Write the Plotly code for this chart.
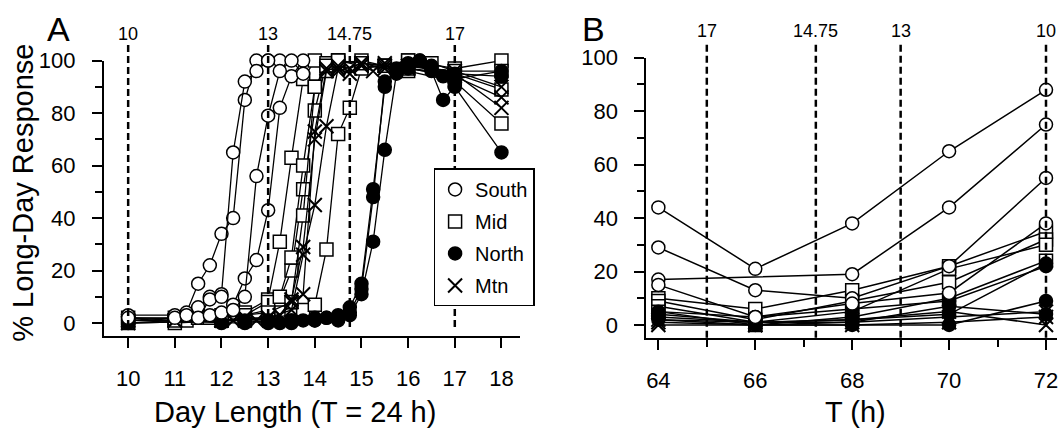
import plotly.graph_objects as go

# ---------------- Panel A: day length (T = 24 h) ----------------
south_a = [
    ([10, 11, 11.25, 11.5, 11.75, 12, 12.25, 12.5, 12.75, 13, 13.25],
     [3, 3, 4, 15, 22, 34, 40, 85, 100, 100, 100]),
    ([10, 11, 11.25, 11.5, 11.75, 12, 12.25, 12.5, 12.75, 13],
     [2, 2, 3, 6, 10, 11, 65, 92, 96, 100]),
    ([11.5, 11.75, 12, 12.25, 12.5, 12.75, 13, 13.25, 13.5, 13.75],
     [2, 9, 10, 7, 17, 24, 43, 82, 94, 100]),
    ([11.75, 12, 12.25, 12.5, 12.75, 13, 13.25, 13.5, 13.75],
     [3, 4, 5, 10, 56, 79, 96, 100, 95]),
]
mid_a = [
    ([10, 11, 11.25, 11.5, 12, 12.5, 13, 13.25, 13.5, 13.75, 14, 14.5, 15, 15.5, 16, 17, 18],
     [1, 2, 1, 2, 3, 4, 9, 31, 63, 93, 100, 100, 99, 98, 100, 97, 100]),
    ([10, 11, 11.5, 12, 12.5, 13, 13.25, 13.5, 13.75, 14, 14.25, 14.5, 15, 16, 17, 18],
     [0, 1, 2, 2, 3, 5, 9, 20, 51, 81, 99, 100, 98, 97, 95, 89]),
    ([11, 11.75, 12.5, 13, 13.25, 13.5, 13.75, 14, 14.25, 14.5, 15, 15.5, 16, 17, 18],
     [1, 2, 3, 8, 10, 25, 60, 90, 96, 99, 100, 98, 96, 92, 76]),
    ([11, 12, 13, 13.5, 13.75, 14, 14.25, 14.5, 14.75, 15, 15.5, 16, 16.5, 17, 18],
     [0, 1, 2, 3, 5, 7, 28, 72, 82, 97, 98, 100, 99, 96, 96]),
    ([10, 11, 12, 12.5, 13, 13.5, 13.75, 14, 14.25, 14.5, 15, 16, 17],
     [2, 1, 2, 3, 4, 8, 41, 90, 98, 100, 99, 97, 94]),
]
north_a = [
    ([10, 12, 12.5, 13, 13.25, 13.5, 13.75, 14, 14.25, 14.5, 14.75, 15, 15.25, 15.5, 15.75, 16, 16.25, 16.5, 16.75, 17, 18],
     [1, 0, 0, 1, 0, 1, 1, 1, 2, 2, 6, 15, 51, 90, 97, 98, 100, 98, 94, 93, 96]),
    ([10, 12.5, 13, 13.5, 14, 14.25, 14.5, 14.75, 15, 15.25, 15.5, 15.75, 16, 16.25, 16.5, 16.75, 17, 18],
     [0, 1, 0, 0, 1, 2, 1, 3, 11, 31, 66, 95, 97, 100, 96, 85, 90, 65]),
    ([10, 13, 13.5, 14, 14.5, 14.75, 15, 15.25, 15.5, 15.75, 16, 16.5, 17, 18],
     [2, 1, 1, 2, 3, 4, 13, 48, 92, 96, 99, 97, 95, 94]),
]
mtn_a = [
    ([10, 11, 12, 12.25, 12.5, 12.75, 13, 13.25, 13.5, 13.75, 14, 14.25, 14.5, 14.75, 15, 15.5, 16, 17, 18],
     [1, 1, 1, 1, 2, 1, 2, 3, 9, 29, 70, 96, 98, 97, 99, 97, 98, 95, 82]),
    ([10, 12, 12.5, 13, 13.5, 13.75, 14, 14.25, 14.5, 14.75, 15, 15.25, 15.5, 16, 17, 18],
     [0, 1, 1, 2, 5, 26, 45, 75, 97, 95, 98, 96, 99, 97, 94, 86]),
    ([11, 12, 12.5, 13, 13.25, 13.5, 13.75, 14, 14.25, 14.5, 15, 15.5, 16, 17, 18],
     [1, 1, 2, 2, 3, 8, 11, 73, 97, 96, 99, 98, 98, 96, 90]),
]

# ---------------- Panel B: T (h) ----------------
t_b = [64, 66, 68, 70, 72]
south_b = [
    ([64, 66, 68, 70, 72], [44, 21, 38, 65, 88]),
    ([64, 68, 70, 72], [17, 19, 44, 75]),
    ([64, 66, 68, 70, 72], [29, 13, 10, 22, 55]),
    ([64, 66, 68, 70, 72], [15, 3, 8, 12, 38]),
]
mid_b = [
    (t_b, [10, 6, 13, 22, 35]),
    (t_b, [9, 2, 9, 16, 32]),
    (t_b, [7, 1, 5, 21, 30]),
    (t_b, [5, 0, 3, 10, 24]),
]
north_b = [
    (t_b, [5, 3, 6, 9, 22]),
    (t_b, [4, 1, 2, 4, 23]),
    (t_b, [2, 0, 0, 0, 9]),
    (t_b, [3, 1, 1, 7, 4]),
]
mtn_b = [
    (t_b, [1, 0, 1, 3, 5]),
    (t_b, [0, 0, 0, 1, 3]),
    (t_b, [2, 1, 2, 5, 0]),
]

ref_lengths_a = [10, 13, 14.75, 17]
ref_labels = ["10", "13", "14.75", "17"]
ref_t_b = [72, 69, 67.25, 65]

xticks_a = [10, 11, 12, 13, 14, 15, 16, 17, 18]
yticks = [0, 20, 40, 60, 80, 100]
xticks_b = [64, 66, 68, 70, 72]

FONT = "Liberation Sans, Arial, Helvetica, sans-serif"
W, H = 1062, 429

styles = {
    "South": dict(symbol="circle", color="white", line=dict(color="black", width=1.5), size=13),
    "Mid": dict(symbol="square", color="white", line=dict(color="black", width=1.5), size=13),
    "North": dict(symbol="circle", color="black", line=dict(color="black", width=1.5), size=13),
    "Mtn": dict(symbol="x-thin", color="black", line=dict(color="black", width=2), size=14),
}

fig = go.Figure()

def add_group(curves, name, xa, ya, lw):
    for xs, ys in curves:
        fig.add_trace(go.Scatter(
            x=xs, y=ys, mode="lines+markers", xaxis=xa, yaxis=ya,
            line=dict(color="black", width=lw), marker=styles[name],
            showlegend=False, cliponaxis=False, hoverinfo="skip"))

for curves, name in [(mid_a, "Mid"), (mtn_a, "Mtn"), (north_a, "North"), (south_a, "South")]:
    add_group(curves, name, "x", "y", 1.3)
for curves, name in [(mid_b, "Mid"), (mtn_b, "Mtn"), (north_b, "North"), (south_b, "South")]:
    add_group(curves, name, "x2", "y2", 1.5)

for i, name in enumerate(["South", "Mid", "North", "Mtn"]):
    fig.add_trace(go.Scatter(
        x=[None], y=[None], mode="markers", marker=styles[name], name=name,
        xaxis="x", yaxis="y", legendgroup=f"g{i}", showlegend=True))

def py(p):
    return 1 - p / H

shapes = []
annotations = []
for xv, lab in zip(ref_lengths_a, ref_labels):
    shapes.append(dict(type="line", xref="x", yref="paper", x0=xv, x1=xv,
                       y0=py(324), y1=py(34), line=dict(color="black", width=2.5, dash="7px,4px")))
    annotations.append(dict(x=xv, y=py(23), xref="x", yref="paper", text=lab, showarrow=False,
                            font=dict(size=18, family=FONT, color="black"), xanchor="center", yanchor="middle"))
for xv, lab in zip(ref_t_b, ref_labels):
    shapes.append(dict(type="line", xref="x2", yref="paper", x0=xv, x1=xv,
                       y0=py(335), y1=py(33), line=dict(color="black", width=2.5, dash="7px,4px")))
    annotations.append(dict(x=xv, y=py(20), xref="x2", yref="paper", text=lab, showarrow=False,
                            font=dict(size=18, family=FONT, color="black"), xanchor="center", yanchor="middle"))

annotations += [
    dict(x=59 / W, y=py(18), xref="paper", yref="paper", text="A", showarrow=False,
         font=dict(size=34, family=FONT, color="black"), xanchor="center", yanchor="middle"),
    dict(x=594 / W, y=py(17), xref="paper", yref="paper", text="B", showarrow=False,
         font=dict(size=34, family=FONT, color="black"), xanchor="center", yanchor="middle"),
    dict(x=23 / W, y=py(186), xref="paper", yref="paper", text="% Long-Day Response", textangle=-90,
         showarrow=False, font=dict(size=29, family=FONT, color="black"), xanchor="center", yanchor="middle"),
    dict(x=295 / W, y=py(411), xref="paper", yref="paper", text="Day Length (T = 24 h)",
         showarrow=False, font=dict(size=29, family=FONT, color="black"), xanchor="center", yanchor="middle"),
    dict(x=856 / W, y=py(411), xref="paper", yref="paper", text="T (h)",
         showarrow=False, font=dict(size=29, family=FONT, color="black"), xanchor="center", yanchor="middle"),
]

axis_common = dict(showline=True, linecolor="black", linewidth=2, showgrid=False, zeroline=False,
                   ticks="outside", tickcolor="black", tickwidth=1.5, ticklen=10,
                   tickfont=dict(size=22, family=FONT, color="black"))

fig.update_layout(
    width=W, height=H, margin=dict(l=0, r=0, t=0, b=0),
    paper_bgcolor="white", plot_bgcolor="white",
    font=dict(family=FONT, color="black"),
    xaxis=dict(domain=[104 / W, 520 / W], range=[9.48, 18.387], tickvals=xticks_a,
               ticklabelstandoff=12, anchor="y", **axis_common),
    yaxis=dict(domain=[py(333), py(50)], range=[-4.81, 100], tickvals=yticks,
               minor=dict(dtick=10, ticks="outside", ticklen=7, tickcolor="black", tickwidth=1.5),
               ticklabelstandoff=12, anchor="x", **axis_common),
    xaxis2=dict(domain=[647 / W, 1058 / W], range=[63.753, 72.227], tickvals=xticks_b,
                minor=dict(dtick=1, ticks="outside", ticklen=7, tickcolor="black", tickwidth=1.5),
                ticklabelstandoff=12, anchor="y2", **axis_common),
    yaxis2=dict(domain=[py(335), py(47)], range=[-4.73, 100], tickvals=yticks,
                minor=dict(dtick=10, ticks="outside", ticklen=7, tickcolor="black", tickwidth=1.5),
                ticklabelstandoff=12, anchor="x2", **axis_common),
    legend=dict(x=434 / W, y=py(161), xanchor="left", yanchor="top",
                bordercolor="black", borderwidth=1.5, bgcolor="white",
                font=dict(size=20, family=FONT, color="black"),
                traceorder="grouped", tracegroupgap=3),
    shapes=shapes, annotations=annotations,
)

fig.write_html("out.html")
